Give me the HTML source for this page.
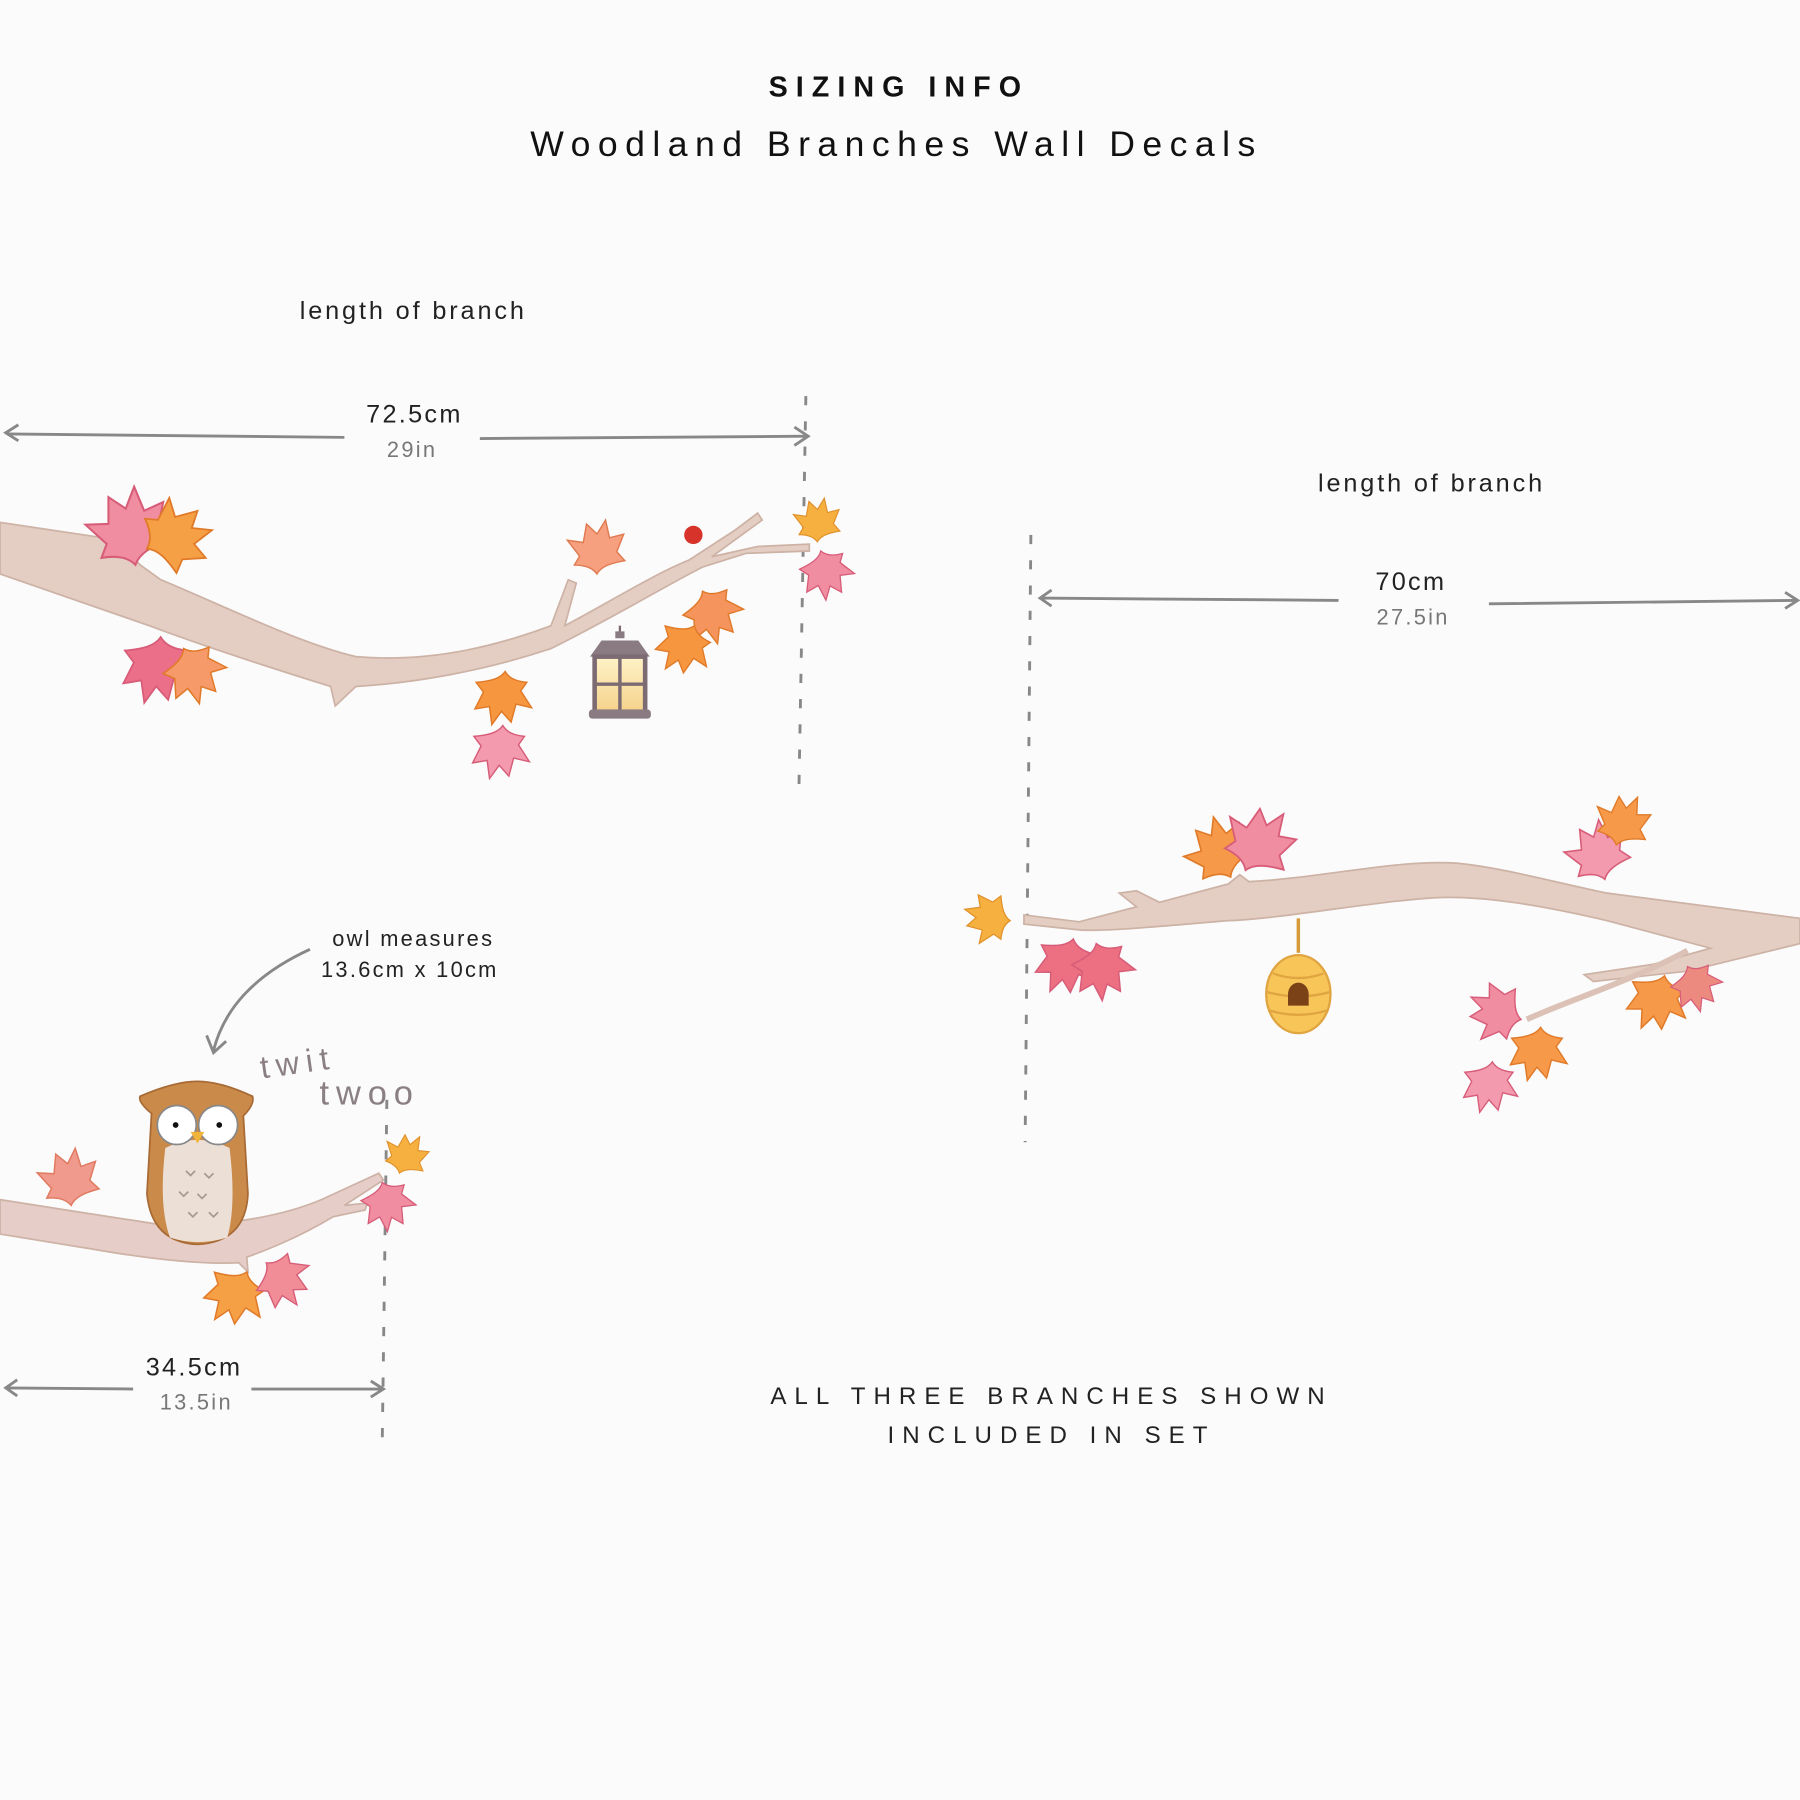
<!DOCTYPE html>
<html><head><meta charset="utf-8"><style>
html,body{margin:0;padding:0;background:#fbfbfb}
svg{display:block}
text{font-family:"Liberation Sans",sans-serif}
</style></head><body>
<svg width="1800" height="1800" viewBox="0 0 1568 1568" xmlns="http://www.w3.org/2000/svg">
<defs>
<path id="lf" d="M0,0 C-3,-5 -8,-8 -18,-9 L-13,-16 L-22,-30 L-9,-27 L-5,-42 L3,-33 L11,-44 L13,-29 L25,-31 L18,-17 L24,-9 C12,-8 4,-6 0,0Z"/>
<linearGradient id="lan" x1="0" x2="0" y1="0" y2="1"><stop offset="0" stop-color="#fff3c8"/><stop offset="1" stop-color="#f5d28a"/></linearGradient>
</defs>
<rect width="1568" height="1568" fill="#fbfbfb"/>

<text x="783" y="84" text-anchor="middle" font-size="25" font-weight="bold" letter-spacing="7" fill="#111">SIZING INFO</text>
<text x="781" y="136" text-anchor="middle" font-size="31" letter-spacing="6.5" fill="#111">Woodland Branches Wall Decals</text>

<text x="360" y="278" text-anchor="middle" font-size="22" letter-spacing="2.5" fill="#222">length of branch</text>
<text x="1247" y="428" text-anchor="middle" font-size="22" letter-spacing="2.5" fill="#222">length of branch</text>

<text x="361" y="368" text-anchor="middle" font-size="22" letter-spacing="2" fill="#222">72.5cm</text>
<text x="359" y="398" text-anchor="middle" font-size="19" letter-spacing="2" fill="#777">29in</text>
<g stroke="#888" stroke-width="2.5" fill="none">
<path d="M6,378 L300,381 M418,382 L703,380"/>
<path d="M16,370 L5,377 L16,384 M692,372 L704,380 L692,388"/>
<path d="M702,345 L696,685" stroke-dasharray="8,14"/>
</g>
<text x="1229" y="514" text-anchor="middle" font-size="22" letter-spacing="2" fill="#222">70cm</text>
<text x="1231" y="544" text-anchor="middle" font-size="19" letter-spacing="2" fill="#777">27.5in</text>
<g stroke="#888" stroke-width="2.5" fill="none">
<path d="M906,521 L1166,523 M1297,526 L1565,523"/>
<path d="M916,514 L906,521 L916,528 M1555,516 L1566,523 L1555,530"/>
<path d="M898,466 L893,995" stroke-dasharray="8,14"/>
</g>
<text x="169" y="1198" text-anchor="middle" font-size="22" letter-spacing="2" fill="#222">34.5cm</text>
<text x="171" y="1228" text-anchor="middle" font-size="19" letter-spacing="2" fill="#777">13.5in</text>
<g stroke="#888" stroke-width="2.5" fill="none">
<path d="M5,1209 L116,1210 M219,1210 L333,1210"/>
<path d="M15,1202 L5,1209 L15,1216 M323,1203 L334,1210 L323,1217"/>
<path d="M337,958 L333,1255" stroke-dasharray="8,14"/>
<path d="M270,827 C220,850 195,880 186,915 M180,902 L186,917 L197,907"/>
</g>
<text x="360" y="824" text-anchor="middle" font-size="19" letter-spacing="2" fill="#222">owl measures</text>
<text x="357" y="851" text-anchor="middle" font-size="19" letter-spacing="2" fill="#222">13.6cm x 10cm</text>
<text x="260" y="935" text-anchor="middle" font-size="28" letter-spacing="6" fill="#8a7f82" transform="rotate(-8 260 930)">twit</text>
<text x="322" y="962" text-anchor="middle" font-size="30" letter-spacing="6" fill="#8a7f82">twoo</text>

<text x="916" y="1223" text-anchor="middle" font-size="21" letter-spacing="7" fill="#222">ALL THREE BRANCHES SHOWN</text>
<text x="916" y="1257" text-anchor="middle" font-size="21" letter-spacing="7" fill="#222">INCLUDED IN SET</text>

<path fill="#e4cdc2" stroke="#cdb2a6" stroke-width="1.5" d="M0,455 L100,470 L122,492 L140,505 C200,530 260,560 310,572 C380,578 440,560 480,545 L495,505 L502,508 L492,545 C530,525 570,500 600,488 L640,462 L660,447 L664,453 L620,485 L660,476 L705,474 L705,480 L650,482 L612,494 C580,510 540,535 480,565 C420,585 360,595 310,598 L292,615 L288,598 C230,580 170,560 130,545 L0,500 Z"/>
<g transform="translate(540,580)">
<line x1="0" y1="-35" x2="0" y2="-25" stroke="#7c6b72" stroke-width="2"/>
<path d="M-4,-30 h8 v6 h-8z M-16,-22 L16,-22 L26,-8 L-26,-8 Z" fill="#8a7a82"/>
<rect x="-22" y="-8" width="44" height="48" fill="url(#lan)" stroke="#7c6b72" stroke-width="4"/>
<path d="M0,-8 V40 M-22,16 H22" stroke="#7c6b72" stroke-width="3"/>
<rect x="-27" y="38" width="54" height="8" rx="3" fill="#8a7a82"/>
</g>
<circle cx="604" cy="466" r="8" fill="#d8332a"/>
<g fill="#f0a6b0" stroke="#d75c78" stroke-width="1.2">
<use href="#lf" transform="translate(118,492) rotate(-15) scale(1.5)" fill="#f08da0"/>
<use href="#lf" transform="translate(128,478) rotate(60) scale(1.3)" fill="#f6a046" stroke="#e07a28"/>
<use href="#lf" transform="translate(140,555) rotate(180) scale(1.3)" fill="#ec6f8a"/>
<use href="#lf" transform="translate(160,565) rotate(150) scale(1.1)" fill="#f69a6a" stroke="#e07a28"/>
<use href="#lf" transform="translate(520,500) rotate(-5) scale(1.05)" fill="#f6a080" stroke="#e07a50"/>
<use href="#lf" transform="translate(440,585) rotate(180) scale(1.05)" fill="#f6963e" stroke="#e07a28"/>
<use href="#lf" transform="translate(438,632) rotate(180) scale(1.05)" fill="#f39aae"/>
<use href="#lf" transform="translate(612,515) rotate(150) scale(1.05)" fill="#f6945e" stroke="#e07a28"/>
<use href="#lf" transform="translate(605,545) rotate(200) scale(1.0)" fill="#f6963e" stroke="#e07a28"/>
<use href="#lf" transform="translate(712,472) rotate(-5) scale(0.85)" fill="#f6b040" stroke="#e0902a"/>
<use href="#lf" transform="translate(715,480) rotate(160) scale(0.95)" fill="#f08da0"/>
</g>

<path fill="#e4cdc2" stroke="#cdb2a6" stroke-width="1.5" d="M892,797 L940,803 L990,790 L975,778 L990,776 L1010,786 L1070,770 L1080,762 L1088,768 C1150,765 1220,748 1270,752 C1310,756 1360,770 1400,778 L1568,800 L1568,822 L1470,846 L1388,855 L1380,849 L1440,840 L1490,826 L1400,802 C1340,788 1290,780 1250,782 C1190,786 1120,800 1070,802 C1020,806 960,812 940,810 L892,805 Z"/>
<path d="M1470,828 C1420,855 1370,870 1330,888" stroke="#dcc2b6" stroke-width="5" fill="none"/>
<line x1="1131" y1="800" x2="1131" y2="830" stroke="#d59a3a" stroke-width="3"/>
<g transform="translate(1131,866)">
<ellipse cx="0" cy="0" rx="28" ry="34" fill="#f7c558" stroke="#e0a440" stroke-width="2"/>
<path d="M-22,-18 Q0,-10 22,-18 M-28,-2 Q0,6 28,-2 M-26,14 Q0,22 26,14" stroke="#e0a440" stroke-width="2" fill="none"/>
<path d="M-9,10 V0 A9,10 0 0 1 9,0 V10 Z" fill="#7b4218"/>
</g>
<g stroke-width="1.2">
<use href="#lf" transform="translate(880,802) rotate(-90) scale(0.9)" fill="#f6b040" stroke="#e0902a"/>
<use href="#lf" transform="translate(935,818) rotate(190) scale(1.1)" fill="#ec6f82" stroke="#d75c78"/>
<use href="#lf" transform="translate(955,822) rotate(160) scale(1.1)" fill="#ec6f82" stroke="#d75c78"/>
<use href="#lf" transform="translate(1072,764) rotate(-30) scale(1.2)" fill="#f69a4a" stroke="#e07a28"/>
<use href="#lf" transform="translate(1085,758) rotate(20) scale(1.3)" fill="#f08da0" stroke="#d75c78"/>
<use href="#lf" transform="translate(1398,766) rotate(-20) scale(1.15)" fill="#f39aae" stroke="#d75c78"/>
<use href="#lf" transform="translate(1408,736) rotate(10) scale(1.0)" fill="#f69a4a" stroke="#e07a28"/>
<use href="#lf" transform="translate(1450,850) rotate(190) scale(1.1)" fill="#f69a4a" stroke="#e07a28"/>
<use href="#lf" transform="translate(1470,842) rotate(150) scale(0.9)" fill="#ec8a80" stroke="#d75c78"/>
<use href="#lf" transform="translate(1325,888) rotate(-80) scale(1.05)" fill="#f08da0" stroke="#d75c78"/>
<use href="#lf" transform="translate(1342,895) rotate(180) scale(1.05)" fill="#f69a4a" stroke="#e07a28"/>
<use href="#lf" transform="translate(1300,925) rotate(180) scale(1.0)" fill="#f39aae" stroke="#d75c78"/>
</g>

<path fill="#e6cdc8" stroke="#cdb2a6" stroke-width="1.5" d="M0,1045 L70,1056 L135,1066 C180,1070 240,1062 280,1045 L330,1022 L334,1028 L300,1050 L320,1048 L318,1054 L290,1060 C260,1078 230,1090 215,1095 L216,1108 L208,1100 C170,1102 120,1095 80,1088 L0,1075 Z"/>
<g transform="translate(172,1020)">
<path d="M-40,-50 Q-52,-60 -50,-65 Q-20,-78 0,-78 Q20,-78 48,-65 Q50,-58 40,-48 L44,20 Q42,62 0,64 Q-40,62 -44,20 Z" fill="#c98a4a" stroke="#a86a34" stroke-width="1.5"/>
<path d="M-28,-20 Q-34,30 -24,58 Q0,66 26,58 Q34,30 28,-20 Q0,-34 -28,-20Z" fill="#ece0d6"/>
<circle cx="-18" cy="-40" r="17" fill="#fff" stroke="#888" stroke-width="1.5"/>
<circle cx="18" cy="-40" r="17" fill="#fff" stroke="#888" stroke-width="1.5"/>
<circle cx="-19" cy="-40" r="2.5" fill="#111"/>
<circle cx="19" cy="-40" r="2.5" fill="#111"/>
<path d="M-6,-34 L6,-34 L0,-24 Z" fill="#f1b43a"/>
<g stroke="#a89890" stroke-width="1.5" fill="none">
<path d="M-10,0 l4,4 l4,-4 M6,2 l4,4 l4,-4 M-16,18 l4,4 l4,-4 M0,20 l4,4 l4,-4 M-8,36 l4,4 l4,-4 M10,36 l4,4 l4,-4"/>
</g>
</g>
<g stroke-width="1.2">
<use href="#lf" transform="translate(62,1050) rotate(-10) scale(1.1)" fill="#f09a8e" stroke="#e07a60"/>
<use href="#lf" transform="translate(348,1022) rotate(15) scale(0.8)" fill="#f6b040" stroke="#e0902a"/>
<use href="#lf" transform="translate(333,1030) rotate(160) scale(0.95)" fill="#f08da0" stroke="#d75c78"/>
<use href="#lf" transform="translate(215,1108) rotate(200) scale(1.1)" fill="#f6a046" stroke="#e07a28"/>
<use href="#lf" transform="translate(232,1100) rotate(130) scale(1.0)" fill="#f08d96" stroke="#d75c78"/>
</g>
</svg>
</body></html>
